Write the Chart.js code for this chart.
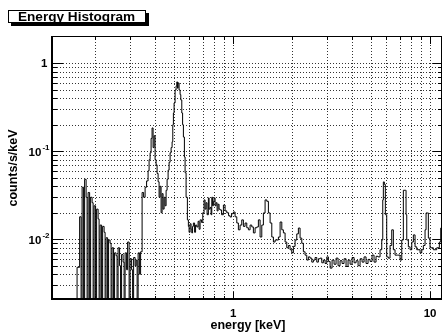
<!DOCTYPE html>
<html>
<head>
<meta charset="utf-8">
<script src="https://cdn.jsdelivr.net/npm/chart.js@4.4.0/dist/chart.umd.min.js"></script>
<style>
  html, body { margin: 0; padding: 0; background: #fff; }
  canvas { display: block; }
</style>
</head>
<body>
<canvas id="spectrum" width="443" height="336"></canvas>
<script>
// Bin lower edges in keV; the last entry closes the final bin
const energyKeV = [
  0.158, 0.1614, 0.1663, 0.1692, 0.1712, 0.1742, 0.1763, 0.1794, 0.1815, 0.1837,
  0.1869, 0.1891, 0.1924, 0.1947, 0.1970, 0.2004, 0.2028, 0.2064, 0.2088, 0.2113,
  0.2150, 0.2176, 0.2214, 0.2240, 0.2266, 0.2306, 0.2333, 0.2374, 0.2402, 0.2430,
  0.2473, 0.2502, 0.2546, 0.2576, 0.2607, 0.2653, 0.2684, 0.2716, 0.2764, 0.2797,
  0.2830, 0.2880, 0.2914, 0.2966, 0.3001, 0.3054, 0.3090, 0.3126, 0.3181, 0.3219,
  0.3257, 0.3295, 0.3353, 0.3392, 0.3452, 0.3513, 0.3575, 0.3638, 0.3702, 0.3746,
  0.3790, 0.3835, 0.3879, 0.3925, 0.3972, 0.4018, 0.4065, 0.4113, 0.4162, 0.4210,
  0.4260, 0.4310, 0.4361, 0.4412, 0.4465, 0.4517, 0.4570, 0.4624, 0.4678, 0.4733,
  0.4789, 0.4845, 0.4902, 0.4942, 0.4977, 0.5017, 0.5076, 0.5136, 0.5178, 0.5226,
  0.5256, 0.5318, 0.5383, 0.5426, 0.5490, 0.5542, 0.5594, 0.5660, 0.5706, 0.5773,
  0.5861, 0.5930, 0.5978, 0.6049, 0.6120, 0.6171, 0.6228, 0.6287, 0.6376, 0.6450,
  0.6541, 0.6642, 0.6720, 0.6799, 0.6919, 0.7017, 0.7124, 0.7208, 0.7293, 0.7379,
  0.7492, 0.7554, 0.7643, 0.7733, 0.7797, 0.7870, 0.7943, 0.8009, 0.8102, 0.8198,
  0.8294, 0.8391, 0.8489, 0.8591, 0.8743, 0.8929, 0.9107, 0.9290, 0.9488, 0.9656,
  0.9826, 1.0035, 1.0237, 1.0442, 1.0639, 1.0852, 1.1069, 1.1280, 1.1505, 1.1736,
  1.1959, 1.2199, 1.2444, 1.2678, 1.2933, 1.3193, 1.3442, 1.3713, 1.3988, 1.4251,
  1.4537, 1.4831, 1.5111, 1.5414, 1.5722, 1.6021, 1.6342, 1.6670, 1.6984, 1.7328,
  1.7675, 1.8008, 1.8365, 1.8733, 1.9087, 1.9470, 1.9860, 2.0235, 2.0641, 2.1057,
  2.1454, 2.1883, 2.2322, 2.2746, 2.3202, 2.3667, 2.4113, 2.4600, 2.5092, 2.5565,
  2.6078, 2.6604, 2.7105, 2.7650, 2.8210, 2.8740, 2.9315, 2.9903, 3.0473, 3.1085,
  3.181, 3.256, 3.333, 3.412, 3.492, 3.575, 3.659, 3.746, 3.835, 3.926,
  4.019, 4.114, 4.211, 4.311, 4.413, 4.517, 4.624, 4.733, 4.845, 4.960,
  5.077, 5.197, 5.320, 5.445, 5.574, 5.686, 5.753, 5.793, 5.861, 5.930,
  6.026, 6.140, 6.266, 6.391, 6.512, 6.642, 6.823, 7.043, 7.184, 7.320,
  7.493, 7.555, 7.617, 7.760, 7.917, 8.075, 8.228, 8.393, 8.562, 8.897,
  9.075, 9.247, 9.433, 9.544, 9.689, 9.804, 10.00, 10.39, 10.81, 11.15,
  11.33, 11.5
];

// Rate per bin in counts/s/keV (0 = empty bin)
const countRate = [
  0, 0.0048, 0.018, 0, 0.039, 0, 0.048, 0.030, 0, 0.034,
  0, 0.030, 0.026, 0, 0.024, 0, 0.022, 0.017, 0, 0.0145,
  0, 0.014, 0.012, 0, 0.0104, 0, 0.0098, 0.009, 0, 0.008,
  0, 0.007, 0.0065, 0, 0.008, 0.005, 0, 0.0067, 0.0055, 0,
  0.0070, 0.0045, 0.0093, 0, 0.0060, 0.0045, 0, 0.0062, 0.0050, 0.0058,
  0, 0.0070, 0.0040, 0.0072, 0.034, 0.030, 0.039, 0.046, 0.060, 0.080,
  0.096, 0.14, 0.184, 0.11, 0.15, 0.080, 0.070, 0.056, 0.045, 0.030,
  0.040, 0.020, 0.033, 0.022, 0.030, 0.024, 0.036, 0.048, 0.061, 0.075,
  0.096, 0.11, 0.128, 0.20, 0.272, 0.354, 0.497, 0.55, 0.613, 0.52,
  0.597, 0.497, 0.44, 0.383, 0.272, 0.20, 0.145, 0.086, 0.057, 0.030,
  0.0166, 0.014, 0.012, 0.015, 0.013, 0.0118, 0.014, 0.0153, 0.012, 0.0145,
  0.0138, 0.016, 0.013, 0.0166, 0.0155, 0.020, 0.028, 0.022, 0.026, 0.019,
  0.0295, 0.022, 0.023, 0.019, 0.030, 0.024, 0.027, 0.0295, 0.024, 0.026,
  0.021, 0.025, 0.022, 0.0215, 0.019, 0.0245, 0.021, 0.020, 0.0185, 0.0179,
  0.0195, 0.0204, 0.018, 0.0153, 0.0128, 0.0145, 0.0166, 0.014, 0.0153, 0.0135,
  0.0128, 0.0145, 0.0138, 0.0118, 0.0135, 0.0138, 0.0166, 0.0106, 0.0145, 0.0199,
  0.028, 0.027, 0.0199, 0.0153, 0.0106, 0.0093, 0.0098, 0.0098, 0.0106, 0.0157,
  0.0128, 0.0118, 0.0093, 0.0080, 0.0085, 0.0076, 0.0070, 0.0083, 0.0098, 0.0115,
  0.0134, 0.0103, 0.0090, 0.0072, 0.0066, 0.0058, 0.0063, 0.0061, 0.0055, 0.0058,
  0.0062, 0.0055, 0.0060, 0.0061, 0.0054, 0.0058, 0.0053, 0.0063, 0.0056, 0.0047,
  0.0058, 0.0052, 0.0061, 0.0050, 0.0057, 0.0053, 0.0060, 0.0049, 0.0058, 0.0052,
  0.0062, 0.0054, 0.0057, 0.0050, 0.0060, 0.0055, 0.0063, 0.0053, 0.0059, 0.0056,
  0.0066, 0.0055, 0.0064, 0.0063, 0.0076, 0.0098, 0.028, 0.0448, 0.042, 0.019,
  0.0063, 0.0061, 0.0085, 0.0128, 0.0076, 0.0066, 0.0066, 0.0058, 0.0098, 0.036,
  0.036, 0.019, 0.0098, 0.0082, 0.0076, 0.0093, 0.0112, 0.0082, 0.0076, 0.0070,
  0.0076, 0.0085, 0.0128, 0.0199, 0.0199, 0.0103, 0.0080, 0.0076, 0.0080, 0.0093,
  0.0134, 0.0134
];

const xMin = 0.119, xMax = 11.5;
const yMin = 0.00204, yMax = 2.04;

const xMajorTicks = [1, 10];
const xMinorTicks = [0.2, 0.3, 0.4, 0.5, 0.6, 0.7, 0.8, 0.9, 2, 3, 4, 5, 6, 7, 8, 9];
const xTickLabels = ['1', '10'];

const yMajorTicks = [0.01, 0.1, 1];
const yMinorTicks = [
  0.003, 0.004, 0.005, 0.006, 0.007, 0.008, 0.009,
  0.02, 0.03, 0.04, 0.05, 0.06, 0.07, 0.08, 0.09,
  0.2, 0.3, 0.4, 0.5, 0.6, 0.7, 0.8, 0.9
];
// [mantissa, exponent] for each major y tick
const yTickLabels = [['10', '-2'], ['10', '-1'], ['1', '']];

const FONT = '"Liberation Sans", Arial, Helvetica, sans-serif';

// empty bins sit below the axis floor so the log scale keeps them
const points = energyKeV.map((e, i) => ({ x: e, y: countRate[i] > 0 ? countRate[i] : yMin / 10 }));

const rootFrame = {
  id: 'rootFrame',
  beforeDatasetsDraw(chart) {
    const { ctx, chartArea: a, scales: { x, y } } = chart;
    ctx.save();
    ctx.strokeStyle = 'rgba(0,0,0,0.8)';
    ctx.lineWidth = 1;
    ctx.setLineDash([1, 2]);
    ctx.beginPath();
    xMajorTicks.concat(xMinorTicks).forEach(v => {
      const px = Math.round(x.getPixelForValue(v)) + 0.5;
      ctx.moveTo(px, a.top);
      ctx.lineTo(px, a.bottom);
    });
    yMajorTicks.concat(yMinorTicks).forEach(v => {
      const py = Math.round(y.getPixelForValue(v)) + 0.5;
      ctx.moveTo(a.left, py);
      ctx.lineTo(a.right, py);
    });
    ctx.stroke();
    ctx.restore();
  },
  afterDatasetsDraw(chart) {
    const { ctx, chartArea: a, scales: { x, y } } = chart;
    ctx.save();
    ctx.strokeStyle = '#000';
    ctx.fillStyle = '#000';

    // frame
    ctx.lineWidth = 1;
    ctx.strokeRect(a.left + 0.5, a.top + 0.5, a.right - a.left - 1, a.bottom - a.top - 1);
    ctx.lineWidth = 2;
    ctx.beginPath();
    ctx.moveTo(a.left + 1, a.top);
    ctx.lineTo(a.left + 1, a.bottom);
    ctx.moveTo(a.left, a.bottom - 1);
    ctx.lineTo(a.right, a.bottom - 1);
    ctx.stroke();

    // tick marks on all four sides
    ctx.lineWidth = 1;
    ctx.beginPath();
    const xTick = (v, len) => {
      const px = Math.round(x.getPixelForValue(v)) + 0.5;
      ctx.moveTo(px, a.bottom);
      ctx.lineTo(px, a.bottom - len);
      ctx.moveTo(px, a.top);
      ctx.lineTo(px, a.top + len);
    };
    const yTick = (v, lenL, lenR) => {
      const py = Math.round(y.getPixelForValue(v)) + 0.5;
      ctx.moveTo(a.left, py);
      ctx.lineTo(a.left + lenL, py);
      ctx.moveTo(a.right, py);
      ctx.lineTo(a.right - lenR, py);
    };
    xMajorTicks.forEach(v => xTick(v, 8));
    xMinorTicks.forEach(v => xTick(v, 4));
    yMajorTicks.forEach(v => yTick(v, 12, 9));
    yMinorTicks.forEach(v => yTick(v, 6, 4));
    ctx.stroke();

    // x tick labels
    ctx.font = `700 11.5px ${FONT}`;
    ctx.textAlign = 'center';
    ctx.textBaseline = 'alphabetic';
    xMajorTicks.forEach((v, i) => {
      ctx.fillText(xTickLabels[i], x.getPixelForValue(v), 317);
    });

    // y tick labels with superscript exponents
    yMajorTicks.forEach((v, i) => {
      const py = y.getPixelForValue(v);
      const [base, exp] = yTickLabels[i];
      ctx.textAlign = 'right';
      ctx.textBaseline = 'alphabetic';
      if (exp) {
        ctx.font = `700 8px ${FONT}`;
        const w = ctx.measureText(exp).width;
        ctx.fillText(exp, 49.5, py - 1);
        ctx.font = `700 11.5px ${FONT}`;
        ctx.fillText(base, 49 - w - 0.5, py + 5);
      } else {
        ctx.font = `700 11.5px ${FONT}`;
        ctx.fillText(base, 47.5, py + 4);
      }
    });

    // axis titles
    ctx.font = `700 12.5px ${FONT}`;
    ctx.textAlign = 'center';
    ctx.fillText('energy [keV]', 248, 329);
    ctx.save();
    ctx.translate(17, (a.top + a.bottom) / 2);
    ctx.rotate(-Math.PI / 2);
    ctx.fillText('counts/s/keV', 0, 0);
    ctx.restore();

    // title box with drop shadow
    ctx.fillRect(11, 13, 138, 13);
    ctx.fillStyle = '#fff';
    ctx.fillRect(8, 10, 138, 13);
    ctx.strokeRect(8.5, 10.5, 137, 12);
    ctx.fillStyle = '#000';
    ctx.font = `700 13.6px ${FONT}`;
    ctx.textAlign = 'left';
    ctx.fillText('Energy Histogram', 18, 21);
    ctx.restore();
  }
};

new Chart(document.getElementById('spectrum'), {
  type: 'line',
  data: {
    datasets: [{
      data: points,
      stepped: 'before',
      borderColor: '#000',
      borderWidth: 1,
      pointRadius: 0,
      fill: false
    }]
  },
  options: {
    responsive: false,
    animation: false,
    devicePixelRatio: 1,
    layout: { padding: { left: 51, top: 36, right: 1, bottom: 36 } },
    plugins: { legend: { display: false }, tooltip: { enabled: false } },
    scales: {
      x: { type: 'logarithmic', min: xMin, max: xMax, display: false },
      y: { type: 'logarithmic', min: yMin, max: yMax, display: false }
    }
  },
  plugins: [rootFrame]
});
</script>
</body>
</html>
